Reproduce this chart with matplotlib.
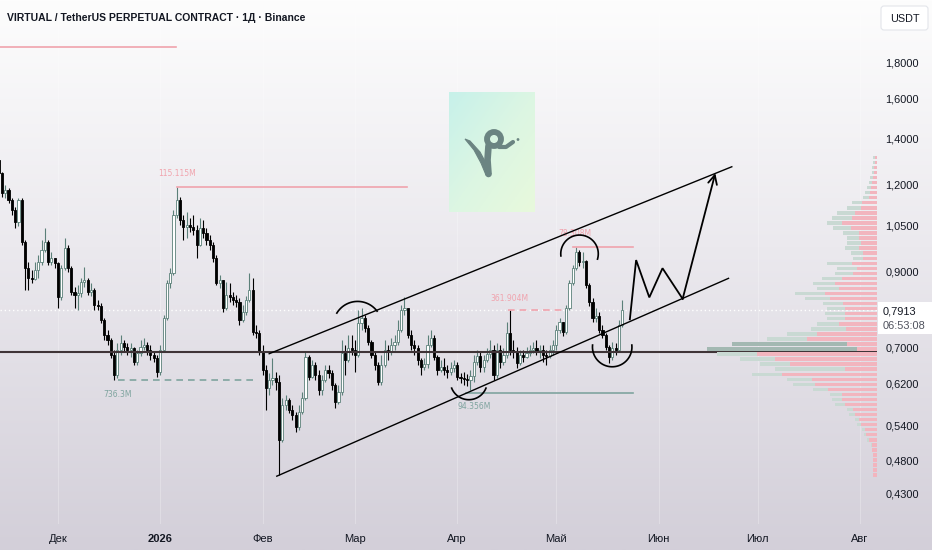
import numpy as np
import matplotlib
matplotlib.use("Agg")
import matplotlib.pyplot as plt
import matplotlib.dates as mdates
from matplotlib.patches import FancyBboxPatch, Rectangle, Circle, Polygon
from matplotlib.colors import LinearSegmentedColormap
import datetime as dt

plt.rcParams['font.family'] = ['Liberation Sans', 'DejaVu Sans']

# ---------------- data ----------------
start_date = dt.date(2025, 11, 13)
n_days = 190

opens = [1.304, 1.249, 1.169, 1.180, 1.142, 1.105, 1.061, 1.142, 0.993, 0.911,
         0.881, 0.878, 0.905, 0.929, 0.967, 0.993, 0.929, 0.941, 0.926, 0.828,
         0.911, 0.973, 0.911, 0.842, 0.833, 0.839, 0.870, 0.875, 0.842, 0.847,
         0.806, 0.803, 0.766, 0.729, 0.717, 0.682, 0.638, 0.694, 0.710, 0.701,
         0.694, 0.698, 0.667, 0.687, 0.701, 0.705, 0.694, 0.682, 0.675, 0.645,
         0.694, 0.771, 0.867, 0.896, 1.086, 1.142, 1.068, 1.044, 1.051, 1.044,
         1.034, 0.983, 1.041, 1.023, 1.000, 0.983, 0.941, 0.867, 0.875, 0.798,
         0.833, 0.828, 0.819, 0.814, 0.766, 0.787, 0.819, 0.847, 0.736, 0.734,
         0.689, 0.649, 0.611, 0.628, 0.632, 0.624, 0.514, 0.578, 0.588, 0.568,
         0.559, 0.537, 0.565, 0.592, 0.678, 0.634, 0.660, 0.638, 0.607, 0.628,
         0.649, 0.643, 0.618, 0.584, 0.603, 0.687, 0.671, 0.698, 0.694, 0.682,
         0.759, 0.771, 0.746, 0.712, 0.682, 0.660, 0.624, 0.660, 0.694, 0.689,
         0.705, 0.712, 0.741, 0.792, 0.798, 0.729, 0.705, 0.698, 0.671, 0.656,
         0.662, 0.705, 0.722, 0.678, 0.649, 0.656, 0.649, 0.645, 0.654, 0.660,
         0.634, 0.632, 0.629, 0.628, 0.636, 0.667, 0.680, 0.656, 0.671, 0.685,
         0.694, 0.638, 0.694, 0.667, 0.682, 0.734, 0.694, 0.689, 0.665, 0.682,
         0.678, 0.687, 0.694, 0.698, 0.689, 0.694, 0.682, 0.680, 0.694, 0.705,
         0.741, 0.761, 0.736, 0.798, 0.867, 0.911, 0.961, 0.929, 0.932, 0.861,
         0.814, 0.771, 0.777, 0.741, 0.729, 0.701, 0.678, 0.698, 0.694, 0.754]

closes = [1.249, 1.169, 1.180, 1.142, 1.105, 1.061, 1.142, 0.993, 0.911, 0.881,
          0.878, 0.905, 0.929, 0.967, 0.993, 0.929, 0.941, 0.926, 0.828, 0.911,
          0.973, 0.911, 0.842, 0.833, 0.839, 0.870, 0.875, 0.842, 0.847, 0.806,
          0.803, 0.766, 0.729, 0.717, 0.682, 0.638, 0.694, 0.710, 0.701, 0.694,
          0.698, 0.667, 0.687, 0.701, 0.705, 0.694, 0.682, 0.675, 0.645, 0.694,
          0.771, 0.867, 0.896, 1.086, 1.142, 1.068, 1.044, 1.051, 1.044, 1.034,
          0.983, 1.041, 1.023, 1.000, 0.983, 0.941, 0.867, 0.875, 0.798, 0.833,
          0.828, 0.819, 0.814, 0.766, 0.787, 0.819, 0.847, 0.736, 0.734, 0.689,
          0.649, 0.611, 0.628, 0.632, 0.624, 0.514, 0.578, 0.588, 0.568, 0.559,
          0.537, 0.565, 0.592, 0.678, 0.634, 0.660, 0.638, 0.607, 0.628, 0.649,
          0.643, 0.618, 0.584, 0.603, 0.687, 0.671, 0.698, 0.694, 0.682, 0.759,
          0.771, 0.746, 0.712, 0.682, 0.660, 0.624, 0.660, 0.694, 0.689, 0.705,
          0.712, 0.741, 0.792, 0.798, 0.729, 0.705, 0.698, 0.671, 0.656, 0.662,
          0.705, 0.722, 0.678, 0.649, 0.656, 0.649, 0.645, 0.654, 0.660, 0.634,
          0.632, 0.629, 0.628, 0.636, 0.667, 0.680, 0.656, 0.671, 0.685, 0.694,
          0.638, 0.694, 0.667, 0.682, 0.734, 0.694, 0.689, 0.665, 0.682, 0.678,
          0.687, 0.694, 0.698, 0.689, 0.694, 0.682, 0.680, 0.694, 0.705, 0.741,
          0.761, 0.736, 0.798, 0.867, 0.911, 0.961, 0.929, 0.932, 0.861, 0.814,
          0.771, 0.777, 0.741, 0.729, 0.701, 0.678, 0.698, 0.694, 0.754, 0.7913]

highs = [1.326, 1.253, 1.200, 1.188, 1.150, 1.116, 1.150, 1.150, 1.000, 0.929,
         0.905, 0.929, 0.951, 1.000, 1.041, 1.000, 0.961, 0.941, 0.929, 0.920,
         1.006, 0.983, 0.917, 0.855, 0.861, 0.881, 0.914, 0.881, 0.867, 0.853,
         0.819, 0.811, 0.771, 0.741, 0.722, 0.694, 0.710, 0.729, 0.717, 0.710,
         0.710, 0.701, 0.694, 0.717, 0.722, 0.712, 0.705, 0.689, 0.682, 0.705,
         0.779, 0.875, 0.911, 1.105, 1.192, 1.153, 1.086, 1.097, 1.075, 1.086,
         1.051, 1.075, 1.068, 1.041, 1.016, 0.993, 0.951, 0.890, 0.875, 0.870,
         0.867, 0.842, 0.833, 0.825, 0.806, 0.830, 0.896, 0.881, 0.754, 0.741,
         0.705, 0.660, 0.643, 0.675, 0.645, 0.638, 0.592, 0.597, 0.592, 0.578,
         0.565, 0.578, 0.603, 0.689, 0.682, 0.671, 0.667, 0.649, 0.638, 0.660,
         0.660, 0.649, 0.622, 0.618, 0.717, 0.705, 0.729, 0.729, 0.717, 0.792,
         0.798, 0.779, 0.754, 0.717, 0.689, 0.667, 0.682, 0.717, 0.705, 0.722,
         0.729, 0.766, 0.806, 0.828, 0.792, 0.741, 0.717, 0.705, 0.675, 0.675,
         0.729, 0.741, 0.729, 0.682, 0.671, 0.675, 0.660, 0.667, 0.671, 0.667,
         0.643, 0.645, 0.641, 0.649, 0.682, 0.694, 0.689, 0.682, 0.698, 0.717,
         0.705, 0.710, 0.705, 0.698, 0.761, 0.792, 0.717, 0.701, 0.694, 0.694,
         0.701, 0.705, 0.712, 0.717, 0.705, 0.705, 0.694, 0.705, 0.717, 0.754,
         0.771, 0.761, 0.806, 0.875, 0.920, 0.977, 0.967, 0.961, 0.935, 0.867,
         0.825, 0.798, 0.787, 0.754, 0.734, 0.705, 0.712, 0.710, 0.766, 0.819]

lows = [1.228, 1.153, 1.150, 1.131, 1.086, 1.041, 1.048, 0.983, 0.847, 0.847,
        0.867, 0.875, 0.881, 0.920, 0.961, 0.920, 0.920, 0.911, 0.798, 0.819,
        0.905, 0.899, 0.833, 0.798, 0.792, 0.828, 0.855, 0.833, 0.830, 0.792,
        0.792, 0.759, 0.717, 0.705, 0.675, 0.628, 0.632, 0.682, 0.689, 0.682,
        0.678, 0.660, 0.660, 0.680, 0.694, 0.682, 0.671, 0.667, 0.634, 0.638,
        0.689, 0.766, 0.853, 0.890, 1.075, 1.051, 1.000, 1.006, 1.027, 1.016,
        0.941, 0.980, 1.006, 0.983, 0.967, 0.929, 0.861, 0.853, 0.787, 0.792,
        0.814, 0.806, 0.800, 0.754, 0.761, 0.779, 0.814, 0.729, 0.722, 0.682,
        0.638, 0.568, 0.597, 0.618, 0.607, 0.458, 0.511, 0.568, 0.563, 0.550,
        0.528, 0.532, 0.561, 0.588, 0.628, 0.632, 0.628, 0.597, 0.597, 0.624,
        0.632, 0.607, 0.572, 0.580, 0.597, 0.638, 0.667, 0.682, 0.645, 0.678,
        0.741, 0.736, 0.705, 0.675, 0.649, 0.618, 0.618, 0.656, 0.671, 0.682,
        0.694, 0.705, 0.736, 0.779, 0.722, 0.694, 0.682, 0.660, 0.638, 0.649,
        0.654, 0.701, 0.671, 0.638, 0.645, 0.638, 0.632, 0.638, 0.645, 0.628,
        0.622, 0.618, 0.616, 0.607, 0.624, 0.660, 0.645, 0.645, 0.667, 0.675,
        0.628, 0.632, 0.654, 0.660, 0.675, 0.682, 0.675, 0.654, 0.660, 0.667,
        0.675, 0.680, 0.687, 0.682, 0.675, 0.667, 0.660, 0.675, 0.682, 0.694,
        0.734, 0.727, 0.731, 0.792, 0.861, 0.905, 0.917, 0.911, 0.853, 0.803,
        0.761, 0.761, 0.734, 0.722, 0.694, 0.665, 0.671, 0.682, 0.689, 0.749]

current_price = 0.7913
countdown = "06:53:08"
key_level = 0.690

y_ticks = [1.8, 1.6, 1.4, 1.2, 1.05, 0.9, 0.7, 0.62, 0.54, 0.48, 0.43]
month_ticks = [dt.date(2025, 12, 1), dt.date(2026, 1, 1), dt.date(2026, 2, 1),
               dt.date(2026, 3, 1), dt.date(2026, 4, 1), dt.date(2026, 5, 1),
               dt.date(2026, 6, 1), dt.date(2026, 7, 1), dt.date(2026, 8, 1)]
month_labels = ["Дек", "2026", "Фев", "Мар", "Апр", "Май", "Июн", "Июл", "Авг"]

# annotations: x in days since start_date, y in price
channel_upper = ([82.0, 222.2], [0.685, 1.275])
channel_lower = ([84.3, 221.2], [0.456, 0.880])
path_days = [191.3, 193.2, 197.2, 201.2, 207.3, 217.2]
path_prices = [0.768, 0.935, 0.826, 0.910, 0.822, 1.248]
arcs = [
    [(102.5, 0.784), (108.9, 0.815), (114.7, 0.789)],
    [(137.3, 0.611), (142.2, 0.588), (147.7, 0.611)],
    [(170.4, 0.948), (175.7, 1.016), (181.5, 0.938)],
    [(180.0, 0.705), (186.3, 0.656), (191.9, 0.705)],
]
# (label, price, day_from, day_to, color, dashed, label_day, label_price)
levels = [
    (None, 1.898, 0.42, 53.8, '#f0a3ad', False, None, None),
    ("115.115M", 1.192, 54.0, 123.8, '#f0a3ad', False, 54.0, 1.245),
    ("736.3M", 0.628, 36.2, 78.6, '#7fa49f', True, 36.0, 0.598),
    ("94.356M", 0.602, 141.6, 192.2, '#7fa49f', False, 144.0, 0.574),
    ("361.904M", 0.792, 154.4, 171.6, '#f0a3ad', True, 154.7, 0.822),
    ("78.308M", 0.978, 174.0, 192.2, '#f0a3ad', False, 174.7, 1.020),
]

# volume profile (bottom to top rows), arbitrary volume units
vp_low, vp_high = 0.455, 1.33
vp_total = [4, 4, 4, 4, 4, 5, 6, 10, 13, 15, 20, 22, 28, 30, 42, 45, 47, 64, 84, 90,
            125, 102, 117, 137, 160, 170, 145, 110, 90, 66, 60, 50, 52, 50, 54, 72, 82, 60,
            64, 55, 42, 40, 50, 24, 26, 32, 30, 30, 34, 44, 50, 45, 40, 30, 25, 14, 12,
            10, 8, 7, 5, 5, 4, 4]
vp_up = [0, 0, 0, 0, 0, 0, 1, 2, 2, 3, 4, 4, 6, 6, 10, 10, 12, 15, 22, 25,
         30, 70, 30, 35, 40, 150, 115, 40, 30, 35, 22, 18, 20, 18, 20, 25, 30, 22,
         22, 20, 18, 20, 25, 10, 12, 14, 14, 12, 16, 18, 15, 20, 18, 14, 10, 6, 5,
         4, 3, 3, 2, 2, 2, 2]

# ---------------- figure ----------------
W, H = 932, 550
fig = plt.figure(figsize=(W / 100, H / 100), dpi=100)

# background gradient
bg = fig.add_axes([0, 0, 1, 1], zorder=0)
bg_cmap = LinearSegmentedColormap.from_list('bg', [(0, '#fdfdfd'), (0.45, '#ebe9ee'), (1, '#d3cfd9')])
bg.imshow(np.linspace(0, 1, 256).reshape(-1, 1), aspect='auto', cmap=bg_cmap,
          extent=(0, 1, 0, 1), origin='upper')
bg.set_axis_off()

ax_right = 877
ax_bottom = 524
ax = fig.add_axes([0, (H - ax_bottom) / H, ax_right / W, ax_bottom / H], zorder=2)
ax.patch.set_alpha(0)
ax.set_yscale('log')
ax.set_ylim(0.389, 2.219)
x0 = mdates.date2num(start_date)
ax.set_xlim(x0 + 0.42, x0 + 266.2)
for s in ax.spines.values():
    s.set_visible(False)

dates = np.array([x0 + i for i in range(n_days)], dtype=float)
o = np.array(opens); c = np.array(closes); h = np.array(highs); l = np.array(lows)
up = c >= o
bull_edge = '#5b8079'

# month grid (very faint)
for d in month_ticks:
    ax.axvline(mdates.date2num(d), color='white', lw=0.8, alpha=0.25, zorder=1)

# volume profile
vp = ax.twiny()
vp.set_xlim(ax_right, 0)
vp.patch.set_alpha(0)
vp.set_axis_off()
edges = np.geomspace(vp_low, vp_high, len(vp_total) + 1)
hts = np.diff(edges) * 0.68
tot = np.array(vp_total, float); upv = np.array(vp_up, float)
down = tot - upv
vp.barh(edges[:-1], down, left=0, height=hts, align='edge', color='#f2b5be', lw=0, zorder=1)
vp.barh(edges[:-1], upv, left=down, height=hts, align='edge',
        color=['#a3b8b2' if u > 100 else '#c9d9d3' for u in upv], lw=0, zorder=1)

# wicks
ax.vlines(dates[up], l[up], h[up], color=bull_edge, lw=0.8, zorder=3)
ax.vlines(dates[~up], l[~up], h[~up], color='black', lw=0.8, zorder=3)
# bodies
bw = 0.66
bot = np.minimum(o, c); hgt = np.maximum(np.abs(c - o), 0.002)
ax.bar(dates[up], hgt[up], bottom=bot[up], width=bw, color='white', edgecolor=bull_edge,
       lw=0.6, zorder=4)
ax.bar(dates[~up], hgt[~up], bottom=bot[~up], width=bw, color='black', edgecolor='black',
       lw=0.6, zorder=4)

# key level & current price
ax.axhline(key_level, color='#3f3437', lw=1.5, zorder=5)
ax.axhline(current_price, color='white', lw=1.0, ls=(0, (1, 2)), zorder=2)

# level lines with labels
for lab, pr, d0, d1, col, dashed, ld, lp in levels:
    ax.plot([x0 + d0, x0 + d1], [pr, pr], color=col, lw=1.2,
            ls=(0, (4, 3)) if dashed else '-', zorder=3)
    if lab:
        ax.text(x0 + ld, lp, lab, color=col, fontsize=5.5, ha='center', va='center',
                family=['DejaVu Sans'], zorder=6)

# channel
for xs, ys in (channel_upper, channel_lower):
    ax.plot([x0 + v for v in xs], ys, color='black', lw=1.0, zorder=6)

# projected path
px = [x0 + v for v in path_days]
ax.plot(px[:-1], path_prices[:-1], color='black', lw=1.3, zorder=6, solid_joinstyle='miter')
ax.annotate('', xy=(px[-1], path_prices[-1]), xytext=(px[-2], path_prices[-2]),
            arrowprops=dict(arrowstyle='->', lw=1.3, color='black', mutation_scale=16,
                            shrinkA=0, shrinkB=0), zorder=6)


def draw_arc(points):
    P = ax.transData.transform([(x0 + a, b) for a, b in points])
    (x1, y1), (x2, y2), (x3, y3) = P
    d = 2 * (x1 * (y2 - y3) + x2 * (y3 - y1) + x3 * (y1 - y2))
    ux = ((x1**2 + y1**2) * (y2 - y3) + (x2**2 + y2**2) * (y3 - y1) + (x3**2 + y3**2) * (y1 - y2)) / d
    uy = ((x1**2 + y1**2) * (x3 - x2) + (x2**2 + y2**2) * (x1 - x3) + (x3**2 + y3**2) * (x2 - x1)) / d
    r = np.hypot(x1 - ux, y1 - uy)
    t1 = np.arctan2(y1 - uy, x1 - ux); t2 = np.arctan2(y2 - uy, x2 - ux); t3 = np.arctan2(y3 - uy, x3 - ux)
    tp = 2 * np.pi
    d13 = (t3 - t1) % tp; d12 = (t2 - t1) % tp
    if d12 < d13:
        ts = t1 + np.linspace(0, d13, 60)
    else:
        ts = t1 - np.linspace(0, tp - d13, 60)
    pts = np.column_stack([ux + r * np.cos(ts), uy + r * np.sin(ts)])
    dp = ax.transData.inverted().transform(pts)
    ax.plot(dp[:, 0], dp[:, 1], color='black', lw=1.2, zorder=6)


for a in arcs:
    draw_arc(a)

# axes ticks
ax.yaxis.tick_right()
ax.set_yticks(y_ticks)
ax.set_yticklabels([f"{t:.4f}".replace('.', ',') for t in y_ticks])
ax.yaxis.set_minor_locator(matplotlib.ticker.NullLocator())
ax.tick_params(axis='y', length=0, pad=6, labelsize=7.9, labelcolor='#131722')
ax.set_xticks([mdates.date2num(d) for d in month_ticks])
ax.set_xticklabels(month_labels)
ax.tick_params(axis='x', length=0, pad=7, labelsize=8.0, labelcolor='#131722')
for lbl in ax.get_xticklabels():
    if lbl.get_text() == "2026":
        lbl.set_fontweight('bold')

# ---------------- overlay (pixel space) ----------------
ov = fig.add_axes([0, 0, 1, 1], zorder=10)
ov.set_xlim(0, W); ov.set_ylim(H, 0)
ov.set_axis_off()
ov.patch.set_alpha(0)

ov.text(7, 18, "VIRTUAL / TetherUS PERPETUAL CONTRACT · 1Д · Binance", fontsize=7.5,
        fontweight='bold', color='#131722', ha='left', va='center')

ov.add_patch(FancyBboxPatch((881, 6), 47, 24, boxstyle='round,pad=0,rounding_size=3',
                            facecolor='white', edgecolor='#e3e5ea', lw=0.8))
ov.text(904.5, 18.5, "USDT", fontsize=7.8, color='#131722', ha='center', va='center')

ov.add_patch(Rectangle((878, 302), 54, 32, facecolor='white', edgecolor='none'))
ov.text(883, 311.5, f"{current_price:.4f}".replace('.', ','), fontsize=7.9, color='#131722',
        ha='left', va='center')
ov.text(883, 326, countdown, fontsize=7.9, color='#50535e', ha='left', va='center')

# logo watermark
gx, gy = np.meshgrid(np.linspace(0, 1, 60), np.linspace(0, 1, 80))
logo_cmap = LinearSegmentedColormap.from_list('lg', ['#c7f1ea', '#dcf6e3', '#e8f9dc'])
ov.imshow(0.5 * gx + 0.5 * gy, cmap=logo_cmap, extent=(449, 535, 212, 92), origin='upper',
          aspect='auto', zorder=1)
gc = '#6b8482'
ov.add_patch(Polygon([(465, 139), (470, 141), (480, 152), (487, 165), (491, 174),
                      (486, 175), (481, 163), (474, 150)], closed=True, facecolor=gc,
                     edgecolor=gc, lw=0.8, zorder=2))
ov.add_patch(Circle((494, 139), 7.0, facecolor='none', edgecolor=gc, lw=4.2, zorder=2))
ov.plot([488.5, 487.5, 488.5], [174, 160, 146], color=gc, lw=4.8, solid_capstyle='round', zorder=2)
ov.plot([499, 506, 513], [147, 147, 142], color=gc, lw=3.0, solid_capstyle='round', zorder=2)
ov.add_patch(Circle((518, 139.5), 1.4, facecolor=gc, edgecolor='none', zorder=2))

fig.savefig("out.png", dpi=100)
